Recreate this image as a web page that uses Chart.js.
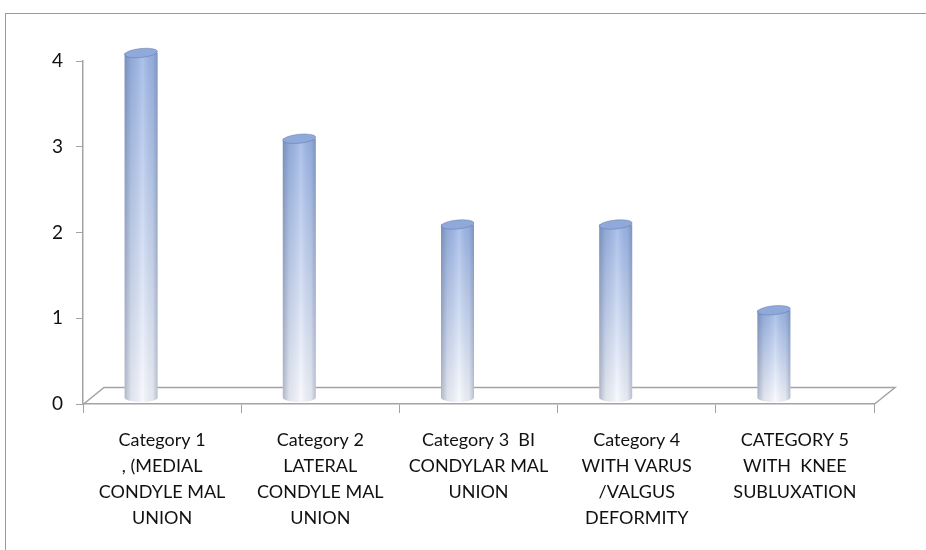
<!DOCTYPE html>
<html>
<head>
<meta charset="utf-8">
<script src="https://cdn.jsdelivr.net/npm/chart.js@4"></script>
<style>
  html, body { margin: 0; padding: 0; background: #fff; }
  #wrap { width: 926px; height: 550px; position: relative; }
</style>
</head>
<body>
<div id="wrap"><canvas id="chart" width="926" height="550"></canvas></div>
<script>
const categories = [
  ["Category 1", ", (MEDIAL", "CONDYLE MAL", "UNION"],
  ["Category 2", "LATERAL", "CONDYLE MAL", "UNION"],
  ["Category 3  BI", "CONDYLAR MAL", "UNION"],
  ["Category 4", "WITH VARUS", "/VALGUS", "DEFORMITY"],
  ["CATEGORY 5", "WITH  KNEE", "SUBLUXATION"]
];
const values = [4, 3, 2, 2, 1];
const yTicks = [0, 1, 2, 3, 4];

const lineGrey = "#a3a3a3";
const fontFamily = "Lato, 'Open Sans', sans-serif";

// frame, floor and cylinders are drawn by hand on top of the chart's scales
const depthX = 21, depthY = -17;

const chart3d = {
  id: "chart3d",
  beforeDraw(chart) {
    const ctx = chart.ctx;
    ctx.save();
    ctx.strokeStyle = "#9a9a9a";
    ctx.lineWidth = 1;
    ctx.strokeRect(5.5, 13.5, 1000, 600);
    ctx.restore();
  },
  beforeDatasetsDraw(chart) {
    const ctx = chart.ctx;
    const x = chart.scales.x, y = chart.scales.y;
    const y0 = Math.round(y.getPixelForValue(0)) + 0.5;
    ctx.save();
    ctx.strokeStyle = lineGrey;
    ctx.lineWidth = 1.5;
    ctx.beginPath();
    ctx.moveTo(x.left, y0);
    ctx.lineTo(x.left + depthX, y0 + depthY);
    ctx.lineTo(x.right + depthX, y0 + depthY);
    ctx.lineTo(x.right, y0);
    ctx.stroke();
    ctx.restore();
  },
  afterDatasetsDraw(chart) {
    const ctx = chart.ctx;
    const meta = chart.getDatasetMeta(0);
    meta.data.forEach((bar) => {
      drawCylinder(ctx, bar.x - 21, bar.y - 8, bar.base - 6, 33);
    });
  }
};

function drawCylinder(ctx, cx, top, base, w) {
  const rx = w / 2, ry = 4.5;
  ctx.save();
  const body = () => {
    ctx.beginPath();
    ctx.moveTo(cx - rx, top);
    ctx.lineTo(cx - rx, base);
    ctx.ellipse(cx, base, rx, ry, 0, Math.PI, 0, true);
    ctx.lineTo(cx + rx, top);
    ctx.closePath();
  };
  const v = ctx.createLinearGradient(0, top, 0, base);
  v.addColorStop(0, "#9ab4e5");
  v.addColorStop(1, "#f5f7fc");
  body();
  ctx.fillStyle = v;
  ctx.fill();

  const h = ctx.createLinearGradient(cx - rx, 0, cx + rx, 0);
  h.addColorStop(0, "rgba(70,85,120,0.40)");
  h.addColorStop(0.2, "rgba(70,85,120,0.12)");
  h.addColorStop(0.55, "rgba(255,255,255,0.18)");
  h.addColorStop(0.85, "rgba(70,85,120,0.10)");
  h.addColorStop(1, "rgba(70,85,120,0.35)");
  body();
  ctx.fillStyle = h;
  ctx.fill();

  ctx.beginPath();
  ctx.ellipse(cx, top, rx, ry, -0.1, 0, Math.PI * 2);
  ctx.fillStyle = "#8fa9db";
  ctx.fill();
  ctx.strokeStyle = "rgba(90,110,160,0.45)";
  ctx.lineWidth = 1;
  ctx.stroke();
  ctx.restore();
}

new Chart(document.getElementById("chart"), {
  type: "bar",
  data: {
    labels: categories,
    datasets: [{
      data: values,
      backgroundColor: "rgba(0,0,0,0)",
      borderWidth: 0
    }]
  },
  options: {
    responsive: false,
    animation: false,
    layout: { padding: { left: 5, right: 52, top: 61, bottom: 0 } },
    plugins: { legend: { display: false }, tooltip: { enabled: false } },
    scales: {
      x: {
        grid: { display: true, drawOnChartArea: false, drawTicks: true, tickLength: 9, color: lineGrey, offset: true },
        border: { display: true, color: lineGrey, width: 1.5 },
        ticks: {
          autoSkip: false, maxRotation: 0, padding: 14,
          color: "#111", font: { family: fontFamily, size: 18, lineHeight: "26px" }
        },
        afterFit(scale) { scale.height = 146; }
      },
      y: {
        min: 0,
        max: 4,
        afterBuildTicks(scale) { scale.ticks = yTicks.map((v) => ({ value: v })); },
        grid: { display: true, drawOnChartArea: false, drawTicks: true, tickLength: 7, color: lineGrey },
        border: { display: true, color: lineGrey, width: 1.5 },
        ticks: { padding: 13, color: "#111", font: { family: fontFamily, size: 19 } },
        afterFit(scale) { scale.width = 78; }
      }
    }
  },
  plugins: [chart3d]
});
</script>
</body>
</html>
